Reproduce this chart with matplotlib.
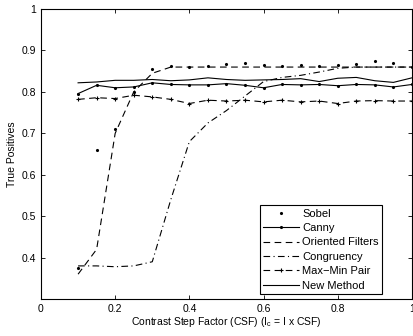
import matplotlib
matplotlib.use("Agg")
import matplotlib.pyplot as plt

plt.rcParams['font.family'] = ['Liberation Sans', 'DejaVu Sans']
plt.rcParams['font.size'] = 7.5

x = [0.1, 0.15, 0.2, 0.25, 0.3, 0.35, 0.4, 0.45, 0.5, 0.55,
     0.6, 0.65, 0.7, 0.75, 0.8, 0.85, 0.9, 0.95, 1.0]

sobel = [0.375, 0.66, 0.71, 0.80, 0.855, 0.862, 0.86, 0.862, 0.868, 0.87,
         0.865, 0.862, 0.865, 0.862, 0.866, 0.868, 0.874, 0.87, 0.86]
canny = [0.796, 0.816, 0.810, 0.812, 0.822, 0.818, 0.817, 0.817, 0.820, 0.816,
         0.810, 0.818, 0.817, 0.818, 0.815, 0.818, 0.817, 0.812, 0.818]
oriented = [0.36, 0.42, 0.70, 0.80, 0.845, 0.86, 0.86, 0.86, 0.86, 0.86,
            0.86, 0.86, 0.86, 0.86, 0.86, 0.86, 0.86, 0.86, 0.86]
congruency = [0.38, 0.38, 0.378, 0.38, 0.39, 0.54, 0.68, 0.725, 0.755, 0.79,
              0.825, 0.835, 0.84, 0.848, 0.857, 0.86, 0.86, 0.86, 0.86]
maxmin = [0.782, 0.786, 0.784, 0.792, 0.788, 0.782, 0.772, 0.780, 0.778, 0.780,
          0.776, 0.780, 0.776, 0.778, 0.772, 0.778, 0.779, 0.778, 0.778]
newmethod = [0.822, 0.824, 0.828, 0.828, 0.830, 0.827, 0.829, 0.834, 0.830, 0.828,
             0.829, 0.830, 0.832, 0.825, 0.833, 0.835, 0.827, 0.823, 0.834]

fig = plt.figure(figsize=(4.14, 3.36), dpi=100)
ax = fig.add_axes([0.099, 0.11, 0.896, 0.863])

lw = 0.8
ax.plot(x, sobel, linestyle='none', marker='.', markersize=2.5, color='black', label='Sobel')
ax.plot(x, canny, linestyle='-', marker='.', markersize=2.5, color='black', linewidth=lw, label='Canny')
ax.plot(x, oriented, linestyle=(0, (6, 4)), color='black', linewidth=lw, label='Oriented Filters')
ax.plot(x, congruency, linestyle=(0, (6, 3, 1, 3)), color='black', linewidth=lw, label='Congruency')
ax.plot(x, maxmin, linestyle=(0, (6, 4)), marker='+', markersize=3, markeredgewidth=0.8,
        color='black', linewidth=lw, label='Max\u2212Min Pair')
ax.plot(x, newmethod, linestyle='-', color='black', linewidth=lw, label='New Method')

ax.set_xlim(0, 1)
ax.set_ylim(0.3, 1)
ax.set_xticks([0, 0.2, 0.4, 0.6, 0.8, 1])
ax.set_xticklabels(['0', '0.2', '0.4', '0.6', '0.8', '1'])
ax.set_yticks([0.4, 0.5, 0.6, 0.7, 0.8, 0.9, 1])
ax.set_yticklabels(['0.4', '0.5', '0.6', '0.7', '0.8', '0.9', '1'])
ax.tick_params(direction='in', top=True, right=True, length=3, width=0.6, labelsize=7.5)
for s in ax.spines.values():
    s.set_linewidth(0.8)

ax.set_xlabel(r'Contrast Step Factor (CSF) (I$_\mathregular{c}$ = I x CSF)', fontsize=7.5, labelpad=1)
ax.set_ylabel('True Positives', fontsize=7.5, labelpad=3)

leg = ax.legend(loc='lower right', bbox_to_anchor=(0.919, 0.017), fontsize=8,
                frameon=True, fancybox=False, edgecolor='black', framealpha=1,
                handlelength=3.2, handletextpad=0.3, labelspacing=0.4,
                borderpad=0.3, borderaxespad=0)
leg.get_frame().set_linewidth(0.8)

fig.savefig('out.png', dpi=100)
